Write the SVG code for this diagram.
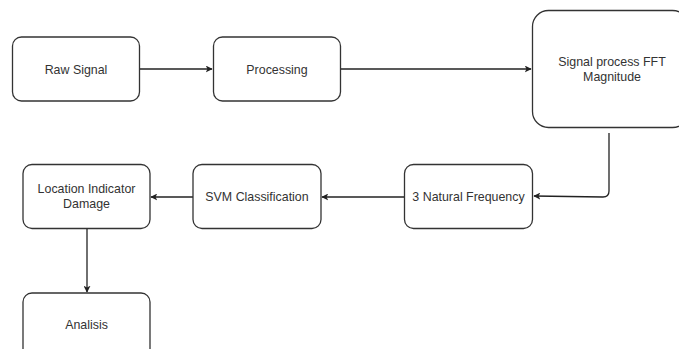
<svg xmlns="http://www.w3.org/2000/svg" width="679" height="349" viewBox="0 0 679 349">
<style>
.box{fill:#fff;stroke:#333;stroke-width:1.3}
.lbl{font-family:"Liberation Sans",Arial,sans-serif;font-size:12.4px;fill:#333;text-anchor:middle}
.edge{fill:none;stroke:#222;stroke-width:1.3}
</style>
<defs>
<marker id="arr" viewBox="0 0 10 10" refX="9" refY="5" markerWidth="7" markerHeight="7" markerUnits="userSpaceOnUse" orient="auto">
<path d="M0,0 L10,5 L0,10 L2.5,5 z" fill="#222"/>
</marker>
</defs>
<rect width="679" height="349" fill="#fff"/>
<g id="connectors">
<path class="edge" d="M139,69 H212" marker-end="url(#arr)"/>
<path class="edge" d="M341,69 H531" marker-end="url(#arr)"/>
<path class="edge" d="M609,133 V191 Q609,197 603,197 L534,196" marker-end="url(#arr)"/>
<path class="edge" d="M404,197 H322" marker-end="url(#arr)"/>
<path class="edge" d="M193,197 H151" marker-end="url(#arr)"/>
<path class="edge" d="M87,229 V292" marker-end="url(#arr)"/>
</g>
<g id="raw-signal">
<rect class="box" x="12.5" y="37" width="127" height="64" rx="9"/>
<text class="lbl" x="76" y="73.5">Raw Signal</text>
</g>
<g id="processing">
<rect class="box" x="213.5" y="37" width="127" height="64" rx="9"/>
<text class="lbl" x="277" y="73.5">Processing</text>
</g>
<g id="fft">
<rect class="box" x="532.5" y="10.5" width="156" height="117" rx="16"/>
<text class="lbl" x="612" y="66">Signal process FFT</text>
<text class="lbl" x="612" y="81">Magnitude</text>
</g>
<g id="natural-frequency">
<rect class="box" x="404.5" y="164.5" width="128" height="64" rx="9"/>
<text class="lbl" x="468.5" y="201">3 Natural Frequency</text>
</g>
<g id="svm">
<rect class="box" x="193" y="164.5" width="128" height="64" rx="9"/>
<text class="lbl" x="257" y="201">SVM Classification</text>
</g>
<g id="location">
<rect class="box" x="23" y="164.5" width="127" height="64" rx="9"/>
<text class="lbl" x="86.5" y="193">Location Indicator</text>
<text class="lbl" x="86.5" y="208">Damage</text>
</g>
<g id="analisis">
<rect class="box" x="23" y="293" width="127" height="70" rx="9"/>
<text class="lbl" x="86.5" y="329">Analisis</text>
</g>
</svg>
